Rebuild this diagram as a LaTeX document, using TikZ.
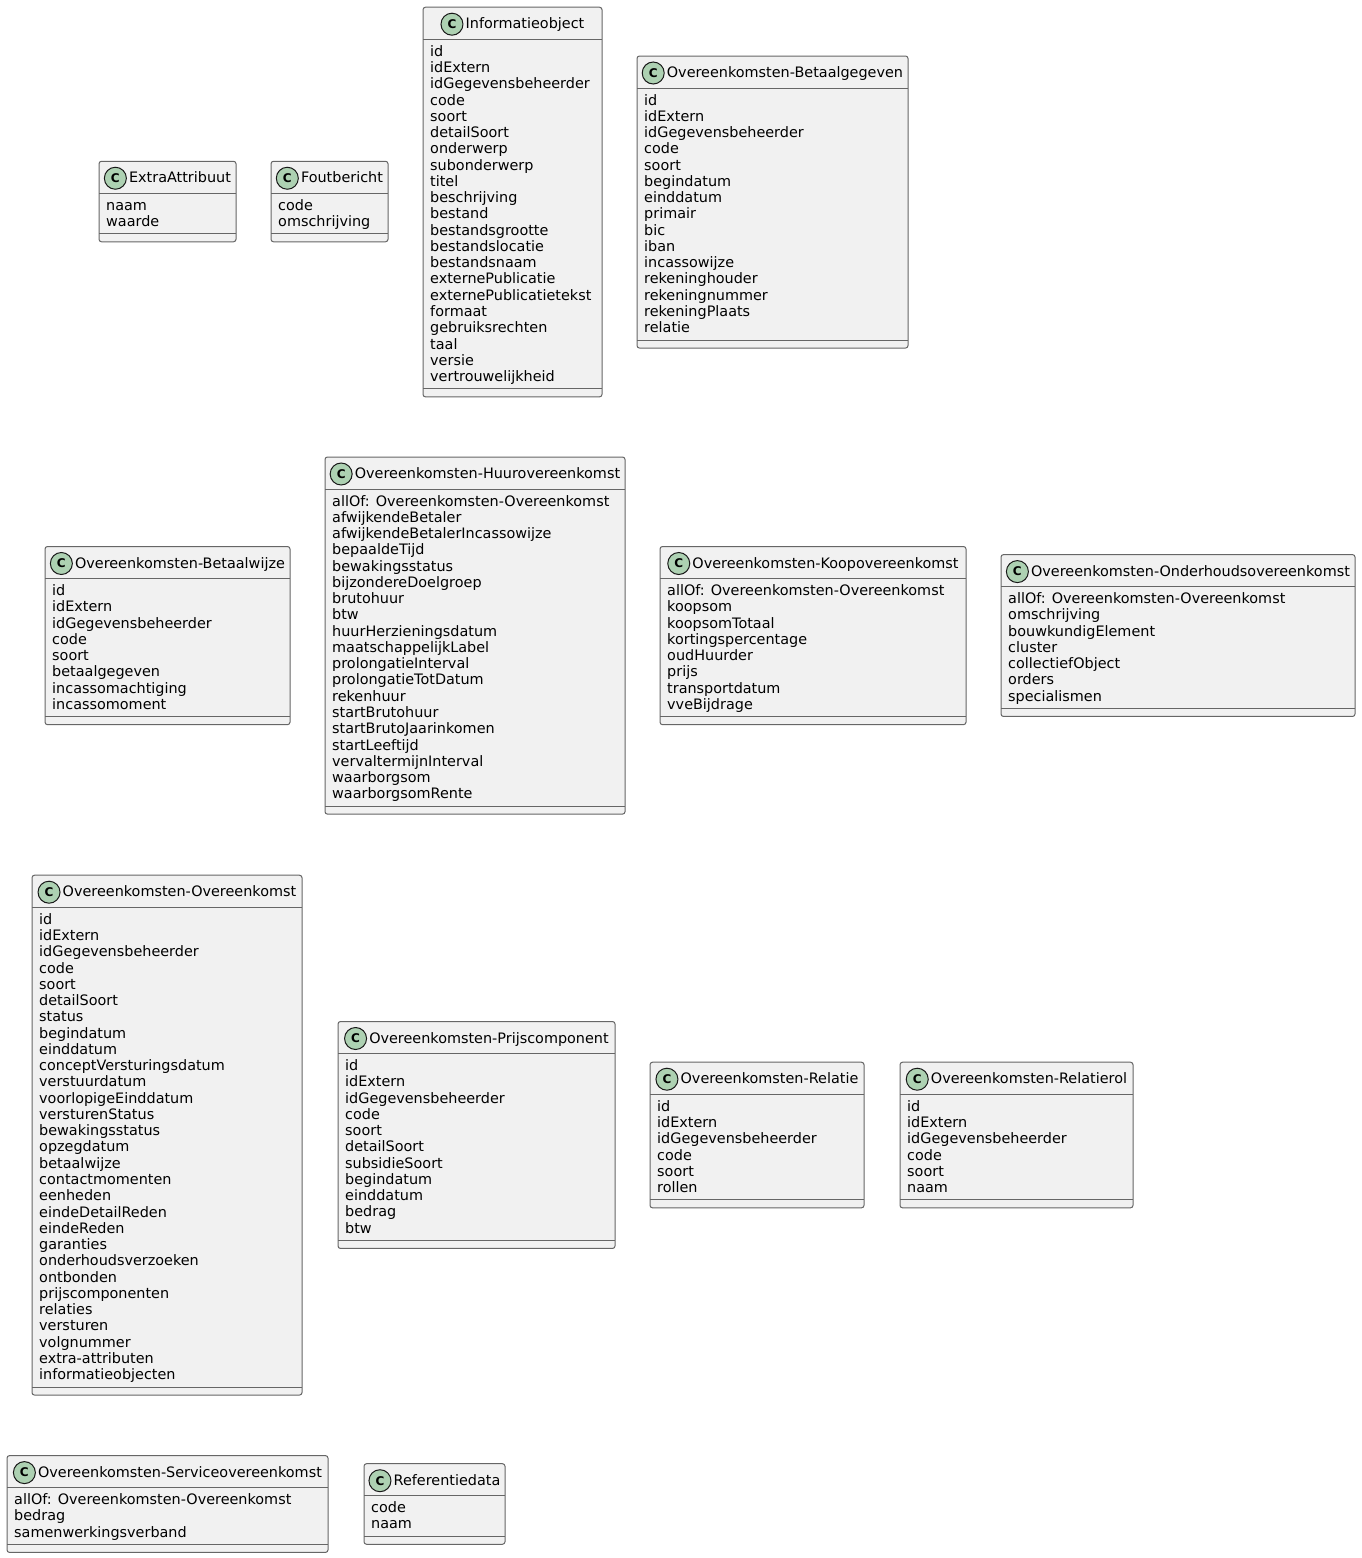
\documentclass[tikz,border=0pt]{standalone}
\usepackage{fontspec}
\setmainfont{DejaVu Sans}
\definecolor{umlborder}{HTML}{666666}
\definecolor{umlfill}{HTML}{F1F1F1}
\definecolor{umlicon}{HTML}{ADD1B2}
\definecolor{umlicondraw}{HTML}{181818}

% \umlclass{name}{left}{right}{top}{title}{attribute list}
\newcommand\umlclass[6]{%
  \foreach \a [count=\i] in {#6} {\xdef\umln{\i}}%
  \pgfmathsetmacro\umlbot{#4+48+\umln*16.27}%
  \pgfmathsetmacro\umlsepb{\umlbot-8}%
  \pgfmathsetmacro\umlmid{(#2+#3)/2}%
  \node[classbox, anchor=north west, minimum width={#3-#2}, minimum height={\umlbot-#4}] (#1) at (#2,#4) {};
  \draw[classsep] (#2,#4+32) -- (#3,#4+32);
  \draw[classsep] (#2,\umlsepb) -- (#3,\umlsepb);
  \node[classtitle] (#1-t) at (\umlmid+12.5,#4+21.5) {#5};
  \node[classicon] (#1-c) at ([shift={(-13.5,-4.5)}]#1-t.base west) {C};
  \foreach \a [count=\i] in {#6} {
    \node[attr] (#1-a\i) at (#2+7,#4+49+\i*16.27-16.27) {\a};
  }%
}

\begin{document}
\begin{tikzpicture}[x=1pt,y=-1pt,
  classbox/.style={draw=umlborder, fill=umlfill, line width=1pt, rounded corners=2.5pt, inner sep=0pt, outer sep=0pt},
  classsep/.style={draw=umlborder, line width=1pt},
  classtitle/.style={font=\fontsize{14.4}{16}\selectfont, inner sep=0pt, anchor=base},
  attr/.style={font=\fontsize{14.4}{16}\selectfont, inner sep=0pt, anchor=base west},
  classicon/.style={circle, draw=umlicondraw, fill=umlicon, line width=1pt, minimum size=22pt, inner sep=0pt, font=\bfseries\fontsize{12}{12}\selectfont}]

\useasboundingbox[fill=white] (0,0) rectangle (1361,1558);

% first row
\umlclass{extra}{99}{236}{161.25}{ExtraAttribuut}{naam,waarde}
\umlclass{fout}{271}{388}{161.25}{Foutbericht}{code,omschrijving}
\umlclass{info}{423}{602}{7.2}{Informatieobject}{id,idExtern,idGegevensbeheerder,code,soort,detailSoort,onderwerp,subonderwerp,titel,beschrijving,bestand,bestandsgrootte,bestandslocatie,bestandsnaam,externePublicatie,externePublicatietekst,formaat,gebruiksrechten,taal,versie,vertrouwelijkheid}
\umlclass{betaalgeg}{637}{908}{56}{Overeenkomsten-Betaalgegeven}{id,idExtern,idGegevensbeheerder,code,soort,begindatum,einddatum,primair,bic,iban,incassowijze,rekeninghouder,rekeningnummer,rekeningPlaats,relatie}

% second row
\umlclass{betaalwijze}{45}{290}{546.5}{Overeenkomsten-Betaalwijze}{id,idExtern,idGegevensbeheerder,code,soort,betaalgegeven,incassomachtiging,incassomoment}
\umlclass{huur}{325}{625}{457}{Overeenkomsten-Huurovereenkomst}{allOf: Overeenkomsten-Overeenkomst,afwijkendeBetaler,afwijkendeBetalerIncassowijze,bepaaldeTijd,bewakingsstatus,bijzondereDoelgroep,brutohuur,btw,huurHerzieningsdatum,maatschappelijkLabel,prolongatieInterval,prolongatieTotDatum,rekenhuur,startBrutohuur,startBrutoJaarinkomen,startLeeftijd,vervaltermijnInterval,waarborgsom,waarborgsomRente}
\umlclass{koop}{660}{966}{546.5}{Overeenkomsten-Koopovereenkomst}{allOf: Overeenkomsten-Overeenkomst,koopsom,koopsomTotaal,kortingspercentage,oudHuurder,prijs,transportdatum,vveBijdrage}
\umlclass{onderhoud}{1001}{1355}{554.6}{Overeenkomsten-Onderhoudsovereenkomst}{allOf: Overeenkomsten-Overeenkomst,omschrijving,bouwkundigElement,cluster,collectiefObject,orders,specialismen}

% third row
\umlclass{overeenkomst}{32}{302}{875.2}{Overeenkomsten-Overeenkomst}{id,idExtern,idGegevensbeheerder,code,soort,detailSoort,status,begindatum,einddatum,conceptVersturingsdatum,verstuurdatum,voorlopigeEinddatum,versturenStatus,bewakingsstatus,opzegdatum,betaalwijze,contactmomenten,eenheden,eindeDetailReden,eindeReden,garanties,onderhoudsverzoeken,ontbonden,prijscomponenten,relaties,versturen,volgnummer,extra-attributen,informatieobjecten}
\umlclass{prijs}{338}{615}{1021.5}{Overeenkomsten-Prijscomponent}{id,idExtern,idGegevensbeheerder,code,soort,detailSoort,subsidieSoort,begindatum,einddatum,bedrag,btw}
\umlclass{relatie}{650}{864}{1062.2}{Overeenkomsten-Relatie}{id,idExtern,idGegevensbeheerder,code,soort,rollen}
\umlclass{relatierol}{900}{1133}{1062.2}{Overeenkomsten-Relatierol}{id,idExtern,idGegevensbeheerder,code,soort,naam}

% fourth row
\umlclass{service}{7}{328}{1455.6}{Overeenkomsten-Serviceovereenkomst}{allOf: Overeenkomsten-Overeenkomst,bedrag,samenwerkingsverband}
\umlclass{referentie}{364}{505}{1463.7}{Referentiedata}{code,naam}

\end{tikzpicture}
\end{document}
